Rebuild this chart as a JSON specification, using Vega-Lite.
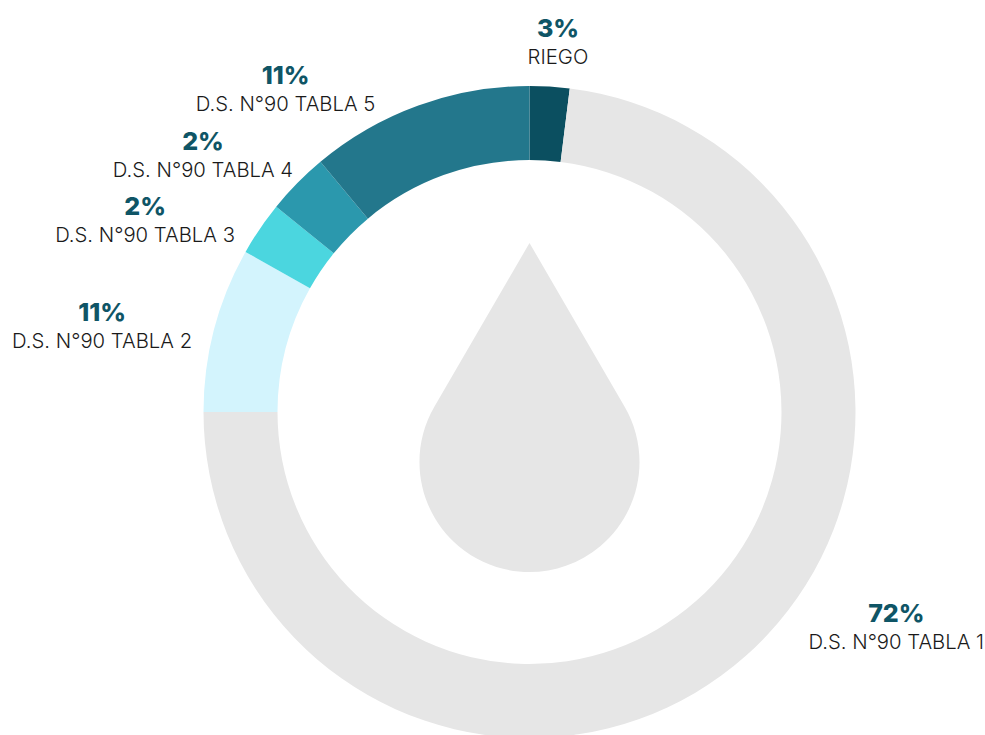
{
 "$schema":"https://vega.github.io/schema/vega-lite/v6.json",
 "width":912,"height":646,
 "padding":{"left":73.5,"top":89,"right":0,"bottom":0},
 "autosize":{"type":"none"},
 "background":"white",
 "view":{"stroke":null},
 "datasets":{"series":[
  {"serie":"RIEGO","orden":1,"parte":1.97,"etiqueta":"3%"},
  {"serie":"D.S. N°90 TABLA 1","orden":2,"parte":73.03,"etiqueta":"72%"},
  {"serie":"D.S. N°90 TABLA 2","orden":3,"parte":8.17,"etiqueta":"11%"},
  {"serie":"D.S. N°90 TABLA 3","orden":4,"parte":2.67,"etiqueta":"2%"},
  {"serie":"D.S. N°90 TABLA 4","orden":5,"parte":3.08,"etiqueta":"2%"},
  {"serie":"D.S. N°90 TABLA 5","orden":6,"parte":11.08,"etiqueta":"11%"}
 ],"gota":[{"nombre":"gota"}]},
 "layer":[
  {"data":{"name":"series"},
   "mark":{"type":"arc","innerRadius":252,"outerRadius":326},
   "encoding":{
    "theta":{"field":"parte","type":"quantitative","stack":true},
    "order":{"field":"orden","type":"ordinal"},
    "color":{"field":"serie","type":"nominal","legend":null,"scale":{
      "domain":["RIEGO","D.S. N°90 TABLA 1","D.S. N°90 TABLA 2","D.S. N°90 TABLA 3","D.S. N°90 TABLA 4","D.S. N°90 TABLA 5"],
      "range":["#0B4F60","#E6E6E6","#D3F4FD","#4BD6DF","#2B98AD","#23778C"]}}
   }},
  {"data":{"name":"gota"},
   "mark":{"type":"point","filled":true,"color":"#E6E6E6","opacity":1,"size":114244,
     "shape":"M0 -1 L0.563 -0.031 A0.651 0.651 0 1 1 -0.563 -0.031 Z"},
   "encoding":{}},
  {"data":{"name":"series"},
   "mark":{"type":"text","font":"Inter","fontWeight":800,"fontSize":25,"color":"#0F5566","align":"center","baseline":"middle","dy":-13},
   "encoding":{
    "text":{"field":"etiqueta"},
    "theta":{"field":"orden","type":"quantitative","stack":null,"scale":{"type":"linear","zero":false,"nice":false,
      "domain":[1,2,3,4,5,6],
      "range":[0.0768,2.1014,4.9114,5.1749,5.3791,5.6357]}},
    "radius":{"field":"orden","type":"quantitative","stack":null,"scale":{"type":"linear","zero":false,"nice":false,
      "domain":[1,2,3,4,5,6],
      "range":[371,425.3,436,429.6,415.5,404.4]}}
   }},
  {"data":{"name":"series"},
   "mark":{"type":"text","font":"Inter","fontWeight":300,"fontSize":20.3,"color":"#1A1A1A","align":"center","baseline":"middle","dy":16},
   "encoding":{
    "text":{"field":"serie"},
    "theta":{"field":"orden","type":"quantitative","stack":null,"scale":{"type":"linear","zero":false,"nice":false,
      "domain":[1,2,3,4,5,6],
      "range":[0.0768,2.1014,4.9114,5.1749,5.3791,5.6357]}},
    "radius":{"field":"orden","type":"quantitative","stack":null,"scale":{"type":"linear","zero":false,"nice":false,
      "domain":[1,2,3,4,5,6],
      "range":[371,425.3,436,429.6,415.5,404.4]}}
   }}
 ],
 "resolve":{"scale":{"theta":"independent","radius":"independent"}}
}
